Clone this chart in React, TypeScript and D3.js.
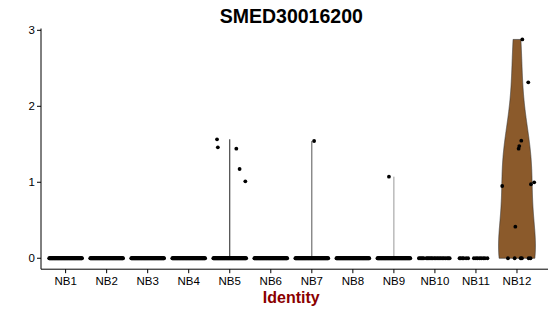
import React from 'react';
import * as d3 from 'd3';

const categories = ['NB1', 'NB2', 'NB3', 'NB4', 'NB5', 'NB6', 'NB7', 'NB8', 'NB9', 'NB10', 'NB11', 'NB12'];
// number of cells with zero expression per identity (dense groups drawn as a jittered band)
const zeroCellCounts = [70, 70, 70, 70, 70, 70, 70, 70, 70, 23, 14, 6];
// expressing cells
const expressedGroup = ['NB5', 'NB5', 'NB5', 'NB5', 'NB5', 'NB7', 'NB9', 'NB12', 'NB12', 'NB12', 'NB12', 'NB12', 'NB12', 'NB12', 'NB12', 'NB12'];
const expressedValues = [1.566, 1.46, 1.442, 1.175, 1.013, 1.543, 1.074, 2.88, 2.316, 1.548, 1.477, 1.442, 1.0, 0.974, 0.951, 0.416];
const expressedJitter = [-0.31, -0.29, 0.16, 0.24, 0.38, 0.056, -0.12, 0.13, 0.275, 0.105, 0.056, 0.04, 0.42, 0.34, -0.36, -0.04];
// jitter of zero cells in the sparse groups
const nb10ZeroJitter = [-0.39, -0.36, -0.33, -0.3, -0.27, -0.21, -0.18, -0.15, -0.12, -0.09, -0.06, -0.02, 0.01, 0.05, 0.08, 0.12, 0.15, 0.19, 0.22, 0.26, 0.3, 0.33, 0.36];
const nb11ZeroJitter = [-0.4, -0.37, -0.33, -0.3, -0.24, -0.19, -0.05, 0.0, 0.04, 0.09, 0.13, 0.18, 0.22, 0.28];
const nb12ZeroJitter = [-0.22, -0.056, 0.09, 0.12, 0.285, 0.33];
const yTicks = [0, 1, 2, 3];

const title = 'SMED30016200';
const xTitle = 'Identity';

const W = 550;
const H = 316;
const plotLeft = 41;
const plotRight = 541.6;
const axisRight = 548;
const plotTop = 28.5;
const plotBottom = 269.2;

const FONT = '"Liberation Sans", Arial, Helvetica, sans-serif';

function bwNrd0(x: number[]): number {
  const s = d3.deviation(x) || 0;
  const sorted = [...x].sort((a, b) => a - b);
  const iqr = (d3.quantileSorted(sorted, 0.75) || 0) - (d3.quantileSorted(sorted, 0.25) || 0);
  let lo = Math.min(s, iqr / 1.34);
  if (!lo) lo = s || Math.abs(x[0]) || 1;
  return 0.9 * lo * Math.pow(x.length, -0.2);
}

export default function App() {
  const yMax = d3.max(expressedValues) as number;
  const pad = yMax * 0.05;
  const y = d3.scaleLinear().domain([-pad, yMax + pad]).range([plotBottom, plotTop]);
  const x = d3.scaleLinear().domain([0.4, categories.length + 0.6]).range([plotLeft, plotRight]);
  const unit = x(2) - x(1);

  const groups = categories.map((cat, gi) => {
    const cells: { v: number; j: number }[] = [];
    let zeroJ: number[];
    if (cat === 'NB10') zeroJ = nb10ZeroJitter;
    else if (cat === 'NB11') zeroJ = nb11ZeroJitter;
    else if (cat === 'NB12') zeroJ = nb12ZeroJitter;
    else {
      const n = zeroCellCounts[gi];
      zeroJ = d3.range(n).map((i) => -0.4 + (0.8 * i) / (n - 1));
    }
    zeroJ.forEach((j) => cells.push({ v: 0, j }));
    expressedGroup.forEach((g, i) => {
      if (g === cat) cells.push({ v: expressedValues[i], j: expressedJitter[i] });
    });
    return { cat, gi, cells };
  });

  const lineColors: Record<string, string> = { NB5: '#222', NB7: '#555', NB9: '#999' };

  const violins = groups.map(({ cat, gi, cells }) => {
    const vals = cells.map((c) => c.v);
    const cx = x(gi + 1);
    const mn = d3.min(vals) as number;
    const mx = d3.max(vals) as number;
    if (mx === mn) return null;
    const sorted = [...vals].sort((a, b) => a - b);
    const iqr = (d3.quantileSorted(sorted, 0.75) || 0) - (d3.quantileSorted(sorted, 0.25) || 0);
    if (iqr === 0) {
      return (
        <line key={cat} x1={cx} x2={cx} y1={y(0)} y2={y(mx)} stroke={lineColors[cat] || '#333'} strokeWidth={1} />
      );
    }
    const bw = bwNrd0(vals);
    const grid = d3.range(512).map((i) => mn + ((mx - mn) * i) / 511);
    const dens = grid.map((g) => (d3.mean(vals, (v) => Math.exp(-0.5 * ((g - v) / bw) ** 2)) as number) / bw);
    const dMax = d3.max(dens) as number;
    const half = 0.45 * unit;
    const pts = grid.map((g, i) => ({ y: g, w: (dens[i] / dMax) * half }));
    const area = d3
      .area<{ y: number; w: number }>()
      .y((d) => y(d.y))
      .x0((d) => cx - d.w)
      .x1((d) => cx + d.w);
    return <path key={cat} d={area(pts) || ''} fill="#8B5A2B" stroke="#333" strokeWidth={0.6} />;
  });

  return (
    <svg width={W} height={H} style={{ position: 'absolute', left: 0, top: 0, background: '#fff' }} fontFamily={FONT}>
      <rect x={0} y={0} width={W} height={H} fill="#fff" />
      <text x={(plotLeft + plotRight) / 2} y={23} textAnchor="middle" fontSize={19.5} fontWeight="bold" fill="#000">
        {title}
      </text>
      {violins}
      {groups.map(({ cat, gi, cells }) =>
        cells.map((c, i) => <circle key={cat + '-' + i} cx={x(gi + 1 + c.j)} cy={y(c.v)} r={1.9} fill="#000" />)
      )}
      <line x1={plotLeft} x2={plotLeft} y1={plotTop} y2={plotBottom} stroke="#000" strokeWidth={1} />
      <line x1={plotLeft} x2={axisRight} y1={plotBottom} y2={plotBottom} stroke="#000" strokeWidth={1} />
      {yTicks.map((t) => (
        <g key={'y' + t}>
          <line x1={plotLeft - 4} x2={plotLeft} y1={y(t)} y2={y(t)} stroke="#000" strokeWidth={1} />
          <text x={plotLeft - 6} y={y(t) + 4} textAnchor="end" fontSize={11.5} fill="#000">
            {t}
          </text>
        </g>
      ))}
      {categories.map((cat, gi) => (
        <g key={'x' + cat}>
          <line x1={x(gi + 1)} x2={x(gi + 1)} y1={plotBottom} y2={plotBottom + 4} stroke="#000" strokeWidth={1} />
          <text x={x(gi + 1)} y={plotBottom + 16} textAnchor="middle" fontSize={11.5} fill="#000">
            {cat}
          </text>
        </g>
      ))}
      <text x={(plotLeft + plotRight) / 2} y={303} textAnchor="middle" fontSize={16} fontWeight="bold" fill="#8B0000">
        {xTitle}
      </text>
    </svg>
  );
}
